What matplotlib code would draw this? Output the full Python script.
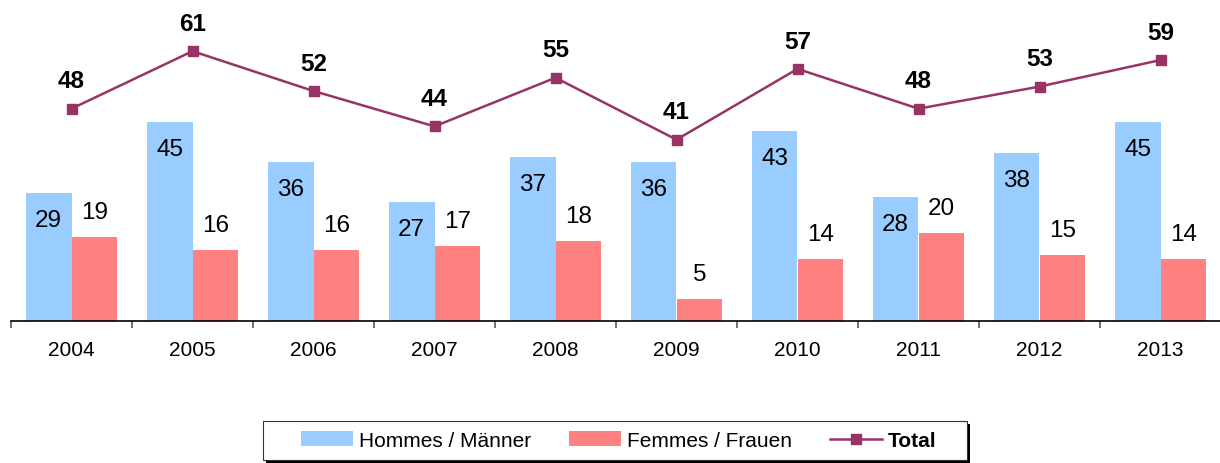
import matplotlib
matplotlib.use("Agg")
import matplotlib.pyplot as plt
import numpy as np
from matplotlib.patches import Patch, Rectangle
from matplotlib.lines import Line2D

plt.rcParams['font.family'] = ['Liberation Sans', 'DejaVu Sans']

years = ["2004", "2005", "2006", "2007", "2008", "2009", "2010", "2011", "2012", "2013"]
men = [29, 45, 36, 27, 37, 36, 43, 28, 38, 45]
women = [19, 16, 16, 17, 18, 5, 14, 20, 15, 14]
total = [48, 61, 52, 44, 55, 41, 57, 48, 53, 59]

labels_legend = ["Hommes / Männer", "Femmes / Frauen", "Total"]

c_men = "#99CCFF"
c_women = "#FF8080"
c_total = "#993366"

W, H = 1220, 464
fig = plt.figure(figsize=(W / 100, H / 100), dpi=100)
ax = fig.add_axes([11 / W, (H - 322) / H, 1210 / W, 322 / H])

x = np.arange(len(years))
bw = 0.38
ax.bar(x - bw / 2, men, bw, color=c_men, linewidth=0)
ax.bar(x + bw / 2, women, bw, color=c_women, linewidth=0)
ax.plot(x, total, color=c_total, lw=1.8, marker='s', markersize=6.5, zorder=3)

for xi, v in zip(x, men):
    ax.annotate(str(v), (xi - bw / 2, v), xytext=(0, -19.5), textcoords='offset points',
                ha='center', va='center', fontsize=17.5)
for xi, v in zip(x, women):
    ax.annotate(str(v), (xi + bw / 2, v), xytext=(0, 18), textcoords='offset points',
                ha='center', va='center', fontsize=17.5)
for xi, v in zip(x, total):
    ax.annotate(str(v), (xi, v), xytext=(0, 20), textcoords='offset points',
                ha='center', va='center', fontsize=17.5, fontweight='bold')

ax.set_xlim(-0.5, len(years) - 0.5)
ax.set_ylim(0, 72.8)
ax.set_yticks([])
for s in ['left', 'right', 'top']:
    ax.spines[s].set_visible(False)
ax.spines['bottom'].set_linewidth(1.2)
ax.set_xticks(x)
ax.set_xticklabels(years, fontsize=15)
ax.tick_params(axis='x', which='major', length=0, pad=13.5)
ax.set_xticks(np.arange(len(years) + 1) - 0.5, minor=True)
ax.tick_params(axis='x', which='minor', length=5, width=1.2, color='#555555')

# legend frame with shadow
fx = lambda px: px / W
fy = lambda py: 1 - py / H
shadow = Rectangle((fx(266), fy(464)), fx(967) - fx(263), fy(422) - fy(461),
                   transform=fig.transFigure, facecolor='black', edgecolor='none', zorder=1)
frame = Rectangle((fx(263), fy(461)), fx(967) - fx(263), fy(422) - fy(461),
                  transform=fig.transFigure, facecolor='white', edgecolor='#333333', lw=0.8, zorder=2)
fig.patches.extend([shadow, frame])

handles = [Patch(facecolor=c_men, edgecolor='none'),
           Patch(facecolor=c_women, edgecolor='none'),
           Line2D([], [], color=c_total, lw=1.8, marker='s', markersize=6.5)]
leg = fig.legend(handles, labels_legend, loc='center', bbox_to_anchor=(fx(619), fy(441.5)),
                 ncol=3, frameon=False, fontsize=15, handlelength=2.5, handletextpad=0.3,
                 columnspacing=1.8, handleheight=0.7)
leg.get_texts()[2].set_fontweight('bold')
leg.set_zorder(5)

fig.savefig("out.png", dpi=100)
